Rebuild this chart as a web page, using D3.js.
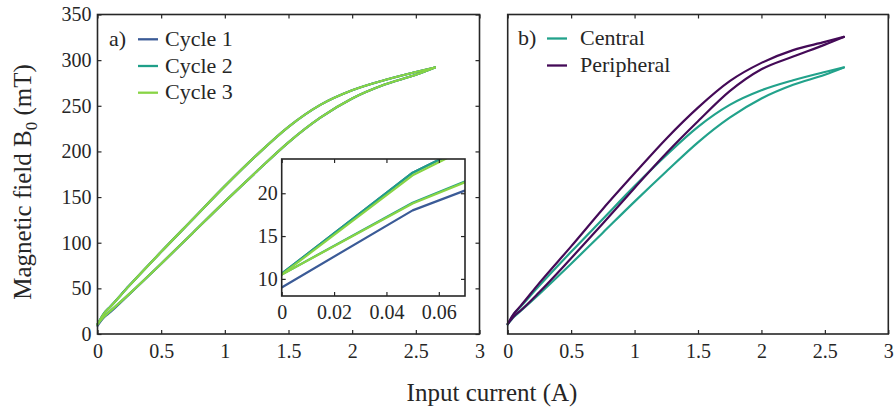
<!DOCTYPE html>
<html>
<head>
<meta charset="utf-8">
<script src="https://cdn.jsdelivr.net/npm/d3@7"></script>
<style>
  body { margin: 0; background: #fff; }
  text { font-family: "Liberation Serif", "Times New Roman", serif; fill: #262626; }
</style>
</head>
<body>
<svg id="fig" width="895" height="409"></svg>
<script>
// Input current samples shared by all loop branches (A)
const current = [0, 0.05, 0.1, 0.25, 0.5, 0.75, 1.0, 1.25, 1.5, 1.75, 2.0, 2.25, 2.5, 2.65];

// Panel a: field B0 (mT) for three magnetisation cycles, rising and falling branches
const cycle1Up   = [9.0, 18.0, 23.8, 43.5, 77, 111, 145, 178, 210, 237, 258, 273, 284, 292];
const cycle1Down = [10.6, 22.4, 29.9, 53, 90, 126, 162, 196, 227, 251, 267, 278, 287, 292];
const cycle2Up   = [10.5, 18.9, 25.1, 44, 77, 111, 145, 178, 210, 237, 258, 273, 284, 292];
const cycle2Down = [10.6, 22.4, 29.9, 53, 90, 126, 162, 196, 227, 251, 267, 278, 287, 292];
const cycle3Up   = [10.5, 18.8, 25.0, 44, 77, 111, 145, 178, 210, 237, 258, 273, 284, 292];
const cycle3Down = [10.5, 22.1, 29.7, 53, 90, 126, 162, 196, 227, 251, 267, 278, 287, 292];

// Panel b: field at the central and peripheral positions
const centralUp      = [10.5, 18.8, 25.0, 44, 77, 111, 145, 178, 210, 237, 258, 273, 284, 292];
const centralDown    = [10.5, 22.1, 29.7, 53, 90, 126, 162, 196, 227, 251, 267, 278, 287, 292];
const peripheralUp   = [11.0, 19.5, 25.5, 46, 83, 121, 160, 198, 233, 266, 290, 304, 317, 325.5];
const peripheralDown = [11.0, 22.5, 30.5, 56, 96, 137, 176, 214, 248, 277, 297, 311, 320, 325.5];

// Axis ticks
const xTicks = [0, 0.5, 1, 1.5, 2, 2.5, 3];
const yTicks = [0, 50, 100, 150, 200, 250, 300, 350];
const insetXTicks = [0, 0.02, 0.04, 0.06];
const insetYTicks = [10, 15, 20];

const cyclesA = [
  { name: "Cycle 1", color: "#3b5b97", up: cycle1Up, down: cycle1Down },
  { name: "Cycle 2", color: "#1f9f89", up: cycle2Up, down: cycle2Down },
  { name: "Cycle 3", color: "#88d445", up: cycle3Up, down: cycle3Down }
];
const seriesB = [
  { name: "Central",    color: "#22a28b", up: centralUp,    down: centralDown },
  { name: "Peripheral", color: "#440a57", up: peripheralUp, down: peripheralDown }
];

const svg = d3.select("#fig");
const ink = "#262626";
const tickLen = 4;
const fmt = d3.format("~g");

const plotTop = 14.5, plotBottom = 334;
const panelA = { x0: 97.5, x1: 479.5 };
const panelB = { x0: 507.7, x1: 888.3 };

const toPts = (ys) => current.map((c, i) => [c, ys[i]]);

function drawFrame(g, x, y, opts) {
  const [xa, xb] = x.range();
  const [yb, ya] = y.range();
  // bottom axis with labels
  const bx = g.append("g").attr("transform", `translate(0,${yb})`)
    .call(d3.axisBottom(x).tickValues(opts.xTicks).tickSizeInner(-tickLen).tickSizeOuter(0)
      .tickPadding(opts.xPad).tickFormat(fmt));
  // top axis, ticks only
  const tx = g.append("g").attr("transform", `translate(0,${ya})`)
    .call(d3.axisTop(x).tickValues(opts.xTicks).tickSizeInner(-tickLen).tickSizeOuter(0).tickFormat(""));
  const axes = [bx, tx];
  if (opts.yTicks) {
    const ly = g.append("g").attr("transform", `translate(${xa},0)`)
      .call(d3.axisLeft(y).tickValues(opts.yTicks).tickSizeInner(-tickLen).tickSizeOuter(0)
        .tickPadding(opts.yPad).tickFormat(fmt));
    const ry = g.append("g").attr("transform", `translate(${xb},0)`)
      .call(d3.axisRight(y).tickValues(opts.yTicks).tickSizeInner(-tickLen).tickSizeOuter(0).tickFormat(""));
    axes.push(ly, ry);
  }
  axes.forEach(a => {
    a.attr("font-family", null);
    a.select(".domain").remove();
    a.selectAll(".tick line").attr("stroke", ink).attr("stroke-width", 1.2);
    a.selectAll(".tick text").attr("fill", ink).style("font-size", "20px")
      .style("font-family", '"Liberation Serif", serif');
  });
  g.append("rect").attr("x", xa).attr("y", ya).attr("width", xb - xa).attr("height", yb - ya)
    .attr("fill", "none").attr("stroke", ink).attr("stroke-width", 1.6);
}

function drawLoops(g, x, y, series, curve) {
  const line = d3.line().x(d => x(d[0])).y(d => y(d[1])).curve(curve);
  series.forEach(s => {
    [s.up, s.down].forEach(branch => {
      g.append("path").attr("d", line(toPts(branch)))
        .attr("fill", "none").attr("stroke", s.color).attr("stroke-width", 2.2)
        .attr("stroke-linejoin", "round").attr("stroke-linecap", "round");
    });
  });
}

function drawLegend(g, tag, series, x, y0, dy, textGap) {
  g.append("text").attr("x", x).attr("y", y0 + 6.5).style("font-size", "22px").text(tag);
  series.forEach((s, i) => {
    const yy = y0 + i * dy;
    g.append("line").attr("x1", x + 29).attr("x2", x + 49).attr("y1", yy).attr("y2", yy)
      .attr("stroke", s.color).attr("stroke-width", 2.3);
    g.append("text").attr("x", x + 49 + textGap).attr("y", yy + 6.5).style("font-size", "22px").text(s.name);
  });
}

// ---- panel a ----
const gA = svg.append("g");
const xA = d3.scaleLinear().domain([0, 3]).range([panelA.x0, panelA.x1]);
const yA = d3.scaleLinear().domain([0, 350]).range([plotBottom, plotTop]);
drawLoops(gA, xA, yA, cyclesA, d3.curveMonotoneX);
drawFrame(gA, xA, yA, { xTicks, yTicks, xPad: 10, yPad: 6 });
drawLegend(gA, "a)", cyclesA, 109, 39.3, 26.7, 7);

// inset: zoom near zero current
const inset = { x0: 281.7, x1: 465, y0: 159, y1: 296 };
const gI = svg.append("g");
const xI = d3.scaleLinear().domain([0, 0.07]).range([inset.x0, inset.x1]);
const yI = d3.scaleLinear().domain([8, 24]).range([inset.y1, inset.y0]);
gI.append("rect").attr("x", inset.x0).attr("y", inset.y0)
  .attr("width", inset.x1 - inset.x0).attr("height", inset.y1 - inset.y0).attr("fill", "#fff");
gI.append("clipPath").attr("id", "insetClip").append("rect")
  .attr("x", inset.x0).attr("y", inset.y0)
  .attr("width", inset.x1 - inset.x0).attr("height", inset.y1 - inset.y0);
const gIL = gI.append("g").attr("clip-path", "url(#insetClip)");
drawLoops(gIL, xI, yI, cyclesA, d3.curveLinear);
drawFrame(gI, xI, yI, { xTicks: insetXTicks, yTicks: insetYTicks, xPad: 9, yPad: 4 });

// ---- panel b ----
const gB = svg.append("g");
const xB = d3.scaleLinear().domain([0, 3]).range([panelB.x0, panelB.x1]);
const yB = d3.scaleLinear().domain([0, 350]).range([plotBottom, plotTop]);
drawLoops(gB, xB, yB, seriesB, d3.curveMonotoneX);
drawFrame(gB, xB, yB, { xTicks, yTicks: null, xPad: 10 });
drawLegend(gB, "b)", seriesB, 518, 38.5, 27, 13);

// ---- shared axis titles ----
svg.append("text").attr("x", 492).attr("y", 401).attr("text-anchor", "middle")
  .style("font-size", "25px").text("Input current (A)");
const yl = svg.append("text").attr("transform", "translate(31,182) rotate(-90)")
  .attr("text-anchor", "middle").style("font-size", "25px");
yl.append("tspan").text("Magnetic field B");
yl.append("tspan").attr("dy", 6).style("font-size", "17px").text("0");
yl.append("tspan").attr("dy", -6).text(" (mT)");
</script>
</body>
</html>
